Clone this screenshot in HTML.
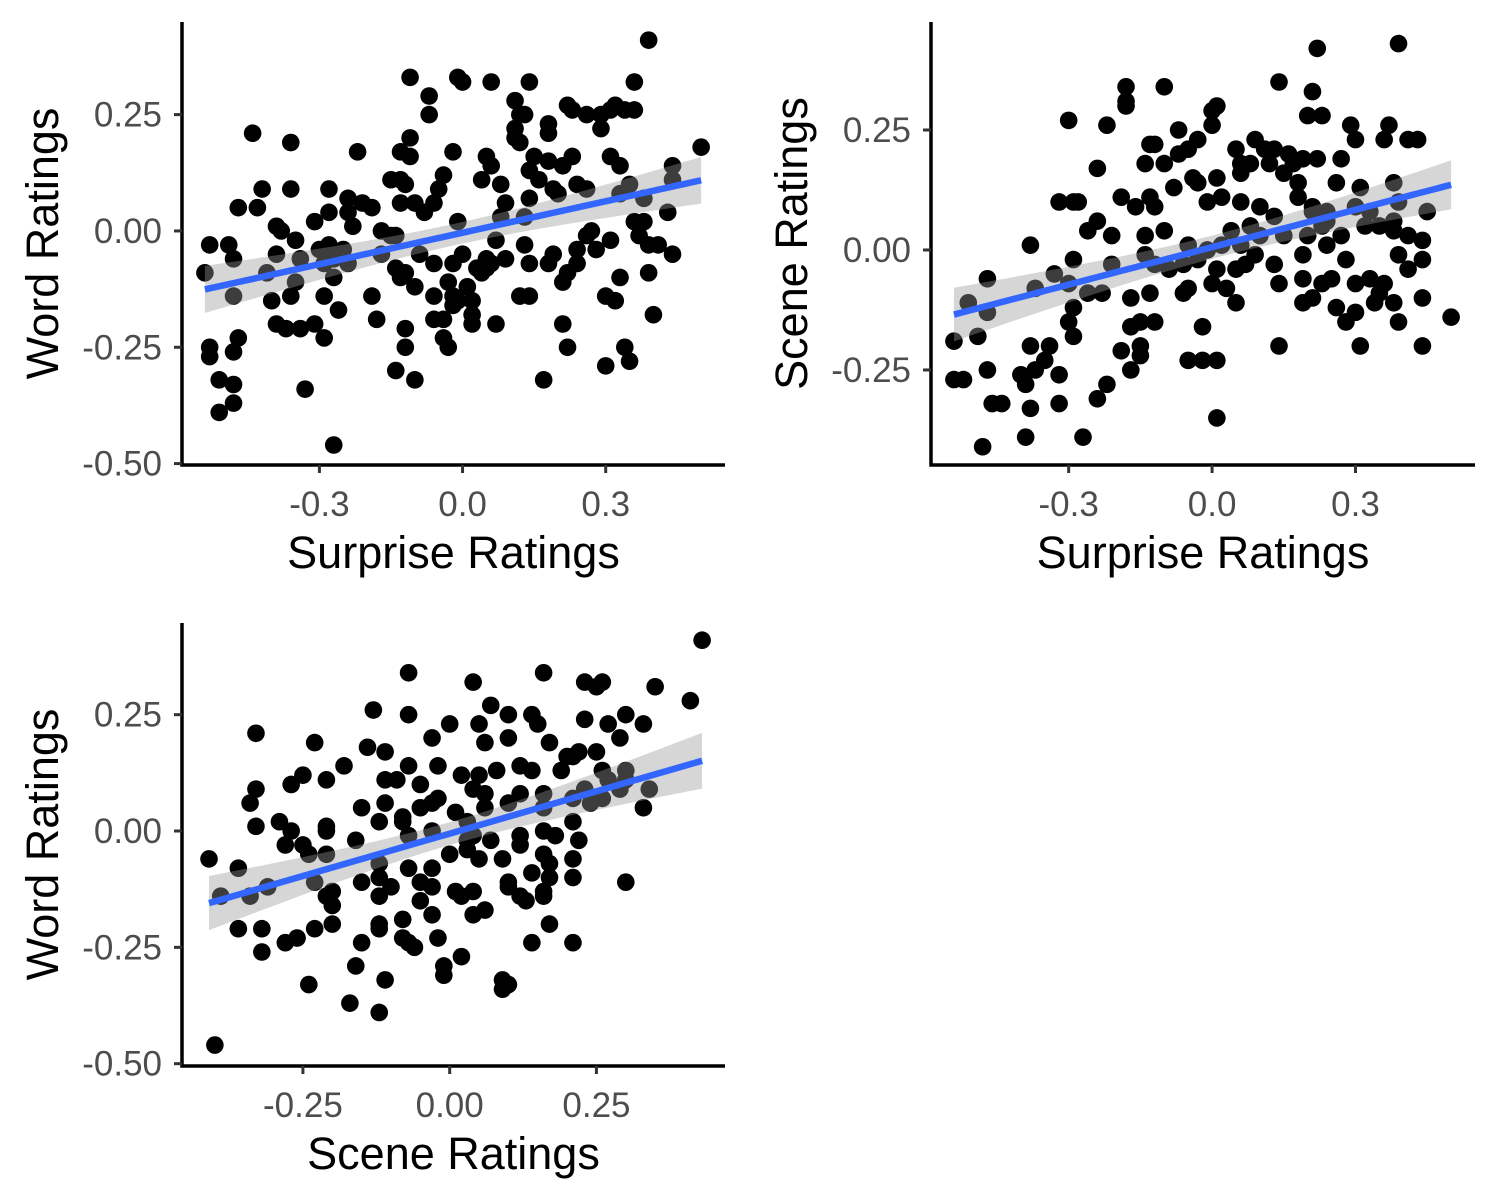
<!DOCTYPE html>
<html><head><meta charset="utf-8">
<style>
html,body{margin:0;padding:0;background:#fff;}
svg{display:block;}
text{font-family:"Liberation Sans",Arial,sans-serif;}
</style></head>
<body>
<svg id="chart" width="1500" height="1200" viewBox="0 0 1500 1200" xmlns="http://www.w3.org/2000/svg"></svg>
<script>
// ---- Panel 1: Surprise vs Word ----
const p1x=[0.39,-0.11,-0.01,0.06,0.14,0.36,0.00,-0.07,-0.07,0.11,0.22,0.32,0.23,0.12,0.13,0.29,0.26,0.18,-0.44,-0.36,-0.11,0.18,0.29,0.31,0.34,0.11,0.11,0.12,0.36,-0.11,-0.22,-0.13,-0.02,0.05,0.15,0.23,0.31,0.33,0.44,0.50,0.06,0.18,0.21,0.14,-0.42,-0.36,-0.28,-0.04,-0.13,-0.15,-0.12,0.04,0.08,0.16,0.19,0.24,0.26,0.35,0.44,-0.05,-0.06,-0.08,-0.24,-0.21,-0.19,-0.13,-0.10,0.09,0.14,0.20,0.33,0.38,0.43,-0.47,-0.43,-0.39,-0.38,-0.31,-0.28,-0.24,-0.23,-0.17,-0.15,-0.14,-0.01,0.08,0.13,0.27,0.36,0.38,0.26,0.31,0.37,0.39,0.41,-0.53,-0.49,-0.48,-0.39,-0.35,-0.34,-0.30,-0.28,-0.25,-0.24,-0.17,-0.09,-0.02,0.05,0.07,0.00,0.05,0.13,0.19,0.24,0.28,0.44,-0.54,-0.48,-0.41,-0.29,-0.27,-0.14,-0.12,-0.06,-0.03,-0.02,0.01,0.04,0.06,0.09,0.14,0.14,0.18,0.22,0.24,0.33,0.39,-0.40,-0.36,-0.35,-0.29,-0.27,-0.19,-0.13,-0.10,-0.06,-0.01,0.02,0.03,0.12,0.21,0.30,0.32,-0.39,-0.31,-0.26,-0.18,-0.06,-0.04,-0.02,0.02,0.07,0.21,0.40,-0.47,-0.48,-0.53,-0.37,-0.34,-0.29,-0.12,-0.12,-0.04,-0.03,0.02,0.22,0.34,0.35,-0.53,-0.51,-0.48,-0.51,-0.48,-0.33,-0.27,-0.14,-0.10,0.17,0.30];
const p1y=[0.41,0.33,0.33,0.32,0.32,0.32,0.32,0.29,0.25,0.28,0.27,0.27,0.26,0.25,0.25,0.25,0.25,0.23,0.21,0.19,0.20,0.21,0.22,0.26,0.26,0.22,0.20,0.19,0.26,0.16,0.17,0.17,0.17,0.16,0.16,0.16,0.16,0.14,0.14,0.18,0.14,0.15,0.14,0.13,0.09,0.09,0.09,0.12,0.11,0.11,0.10,0.11,0.10,0.11,0.09,0.10,0.09,0.10,0.11,0.09,0.06,0.04,0.07,0.06,0.05,0.06,0.06,0.06,0.07,0.08,0.08,0.07,0.04,0.05,0.05,0.01,0.00,0.02,0.04,0.04,0.01,0.00,-0.01,-0.01,0.02,0.03,0.03,0.00,0.02,0.02,-0.01,-0.02,-0.01,-0.03,-0.03,-0.03,-0.03,-0.06,-0.05,-0.02,-0.06,-0.04,-0.03,-0.04,-0.07,-0.05,-0.05,-0.07,-0.06,-0.02,-0.05,-0.08,-0.03,-0.05,-0.04,-0.04,-0.05,-0.09,-0.14,-0.09,-0.07,-0.06,-0.08,-0.09,-0.07,-0.11,-0.14,-0.12,-0.09,-0.07,-0.06,-0.07,-0.14,-0.07,-0.09,-0.07,-0.10,-0.09,-0.15,-0.14,-0.11,-0.14,-0.10,-0.14,-0.10,-0.12,-0.14,-0.15,-0.15,-0.08,-0.14,-0.11,-0.14,-0.15,-0.20,-0.20,-0.17,-0.19,-0.19,-0.19,-0.16,-0.18,-0.20,-0.20,-0.18,-0.23,-0.26,-0.25,-0.21,-0.21,-0.23,-0.21,-0.25,-0.23,-0.25,-0.20,-0.25,-0.25,-0.28,-0.27,-0.32,-0.33,-0.39,-0.37,-0.34,-0.46,-0.30,-0.32,-0.32,-0.29];
const p1xTicks=[-0.3,0.0,0.3];
const p1xLabels=["-0.3","0.0","0.3"];
const p1yTicks=[0.25,0.00,-0.25,-0.50];
const p1yLabels=["0.25","0.00","-0.25","-0.50"];

// ---- Panel 2: Surprise vs Scene ----
const p2x=[0.39,0.22,-0.10,-0.18,0.01,0.21,0.14,-0.18,-0.18,-0.30,-0.22,0.23,0.20,0.00,-0.07,-0.03,0.00,0.05,0.29,0.37,0.30,0.41,0.36,0.43,-0.13,-0.12,-0.07,-0.05,0.09,0.11,0.13,0.16,0.17,0.19,0.22,0.27,-0.24,-0.14,-0.10,-0.04,0.06,0.08,0.12,0.15,0.18,0.26,0.31,0.38,0.06,0.01,-0.03,-0.08,-0.13,-0.19,-0.32,-0.29,-0.28,-0.16,-0.12,-0.01,0.02,0.06,0.10,0.13,0.18,0.21,0.24,0.30,0.33,0.38,0.39,0.45,0.35,0.23,0.21,0.08,0.04,-0.24,-0.26,-0.21,-0.14,-0.10,-0.05,-0.01,0.02,0.06,0.10,0.15,0.20,0.24,0.27,0.32,0.38,0.39,0.41,0.44,-0.38,-0.29,-0.21,-0.14,-0.12,-0.09,-0.06,-0.03,0.01,0.05,0.07,0.09,0.13,0.19,0.24,0.28,0.44,0.33,0.41,0.25,0.19,0.23,0.19,0.30,0.36,0.35,0.38,0.44,-0.47,-0.37,-0.33,-0.30,-0.26,-0.23,-0.17,-0.13,-0.05,0.00,0.03,0.05,0.14,0.21,0.26,0.28,0.30,0.34,0.39,0.50,0.44,0.31,0.14,-0.02,-0.06,-0.29,-0.30,-0.15,-0.17,-0.12,-0.05,0.01,-0.02,-0.15,-0.19,-0.51,-0.47,-0.54,-0.49,-0.54,-0.52,-0.46,-0.47,-0.37,-0.32,-0.40,-0.39,-0.35,-0.34,-0.38,-0.38,-0.44,-0.32,-0.29,-0.24,-0.17,-0.15,-0.27,-0.39,-0.48,0.01,-0.22];
const p2y=[0.43,0.42,0.34,0.34,0.30,0.33,0.35,0.31,0.30,0.27,0.26,0.28,0.28,0.29,0.25,0.23,0.26,0.21,0.26,0.26,0.23,0.23,0.23,0.23,0.22,0.22,0.20,0.21,0.23,0.21,0.21,0.20,0.18,0.19,0.19,0.19,0.17,0.18,0.18,0.15,0.18,0.18,0.18,0.16,0.14,0.14,0.13,0.14,0.16,0.15,0.14,0.13,0.11,0.11,0.10,0.10,0.10,0.09,0.09,0.10,0.11,0.10,0.09,0.07,0.11,0.09,0.08,0.09,0.08,0.06,0.10,0.08,0.05,0.05,0.08,0.05,0.04,0.06,0.04,0.03,0.03,0.04,0.01,0.00,0.01,0.01,0.03,0.03,0.03,0.06,0.03,0.05,0.04,-0.01,0.03,0.02,0.01,-0.02,-0.03,-0.01,-0.03,-0.04,-0.03,-0.02,-0.04,-0.04,-0.03,-0.01,-0.03,-0.01,0.01,-0.02,-0.02,-0.06,-0.04,-0.06,-0.06,-0.07,-0.11,-0.07,-0.07,-0.09,-0.11,-0.10,-0.06,-0.08,-0.05,-0.07,-0.09,-0.09,-0.10,-0.09,-0.08,-0.07,-0.08,-0.11,-0.07,-0.10,-0.12,-0.15,-0.13,-0.11,-0.15,-0.14,-0.20,-0.20,-0.20,-0.16,-0.09,-0.12,-0.15,-0.15,-0.16,-0.15,-0.23,-0.23,-0.23,-0.20,-0.21,-0.11,-0.13,-0.19,-0.18,-0.27,-0.27,-0.32,-0.25,-0.25,-0.26,-0.26,-0.28,-0.23,-0.20,-0.20,-0.33,-0.32,-0.32,-0.18,-0.31,-0.25,-0.22,-0.39,-0.39,-0.41,-0.35,-0.28];
const p2xTicks=[-0.3,0.0,0.3];
const p2xLabels=["-0.3","0.0","0.3"];
const p2yTicks=[0.25,0.00,-0.25];
const p2yLabels=["0.25","0.00","-0.25"];

// ---- Panel 3: Scene vs Word ----
const p3x=[0.43,0.41,0.35,0.26,0.23,0.25,0.16,0.07,0.04,0.23,0.30,0.33,0.27,0.14,0.15,0.10,-0.07,-0.13,-0.07,0.00,0.05,0.10,0.06,-0.33,-0.23,-0.14,-0.03,0.17,0.22,0.25,0.20,0.21,0.29,0.26,0.30,0.30,0.27,0.23,0.19,0.14,0.12,0.08,0.05,0.02,-0.02,-0.07,-0.11,-0.18,-0.21,-0.25,-0.33,-0.27,-0.11,-0.09,-0.05,-0.02,0.04,0.06,0.12,0.16,0.21,0.24,0.26,0.29,0.34,0.33,-0.34,-0.33,-0.29,-0.27,-0.21,-0.15,-0.11,-0.08,-0.05,-0.03,0.01,0.03,0.06,0.10,0.16,0.18,0.21,0.22,0.16,0.12,0.07,0.04,0.03,-0.03,-0.07,-0.08,-0.12,-0.16,-0.21,-0.25,-0.28,-0.41,-0.36,-0.24,-0.21,-0.12,-0.07,-0.03,0.00,0.05,0.03,0.09,0.12,0.16,0.17,0.21,0.30,-0.39,-0.34,-0.31,-0.23,-0.20,-0.15,-0.12,-0.10,-0.05,-0.03,0.01,0.04,0.10,0.14,0.17,0.21,-0.21,-0.20,-0.12,-0.05,0.02,0.10,0.13,0.16,0.16,0.12,-0.36,-0.32,-0.32,-0.28,-0.26,-0.23,-0.20,-0.12,-0.08,-0.08,-0.03,0.04,0.06,0.17,0.21,0.14,-0.15,-0.16,-0.12,-0.06,-0.07,-0.01,-0.11,-0.17,-0.12,-0.01,0.09,0.10,0.09,-0.24,-0.40,-0.02,0.02];
const p3y=[0.41,0.28,0.31,0.32,0.32,0.31,0.34,0.27,0.32,0.24,0.25,0.23,0.23,0.25,0.23,0.25,0.34,0.26,0.25,0.23,0.23,0.20,0.19,0.21,0.19,0.18,0.20,0.19,0.17,0.17,0.16,0.16,0.20,0.13,0.13,0.11,0.11,0.09,0.13,0.13,0.14,0.13,0.12,0.12,0.14,0.14,0.17,0.14,0.11,0.12,0.09,0.10,0.11,0.11,0.10,0.07,0.09,0.08,0.08,0.08,0.07,0.06,0.07,0.09,0.09,0.05,0.06,0.01,0.02,0.00,0.01,0.05,0.06,0.03,0.05,0.06,0.04,0.02,0.05,0.06,0.00,-0.01,0.02,-0.02,0.05,-0.01,-0.02,-0.01,-0.02,0.00,-0.01,0.02,0.02,-0.02,0.00,-0.03,-0.03,-0.06,-0.08,-0.05,-0.05,-0.07,-0.08,-0.08,-0.05,-0.06,-0.04,-0.06,-0.03,-0.05,-0.07,-0.06,-0.11,-0.14,-0.14,-0.12,-0.11,-0.13,-0.11,-0.10,-0.12,-0.11,-0.12,-0.13,-0.13,-0.11,-0.09,-0.10,-0.10,-0.14,-0.16,-0.14,-0.15,-0.14,-0.12,-0.15,-0.13,-0.14,-0.14,-0.21,-0.21,-0.26,-0.24,-0.23,-0.21,-0.20,-0.20,-0.19,-0.23,-0.18,-0.18,-0.17,-0.20,-0.24,-0.24,-0.24,-0.29,-0.21,-0.25,-0.24,-0.29,-0.32,-0.37,-0.39,-0.31,-0.32,-0.33,-0.34,-0.33,-0.46,-0.23,-0.27];
const p3xTicks=[-0.25,0.00,0.25];
const p3xLabels=["-0.25","0.00","0.25"];
const p3yTicks=[0.25,0.00,-0.25,-0.50];
const p3yLabels=["0.25","0.00","-0.25","-0.50"];

const NS="http://www.w3.org/2000/svg";
const svg=document.getElementById('chart');
function mk(tag,attrs,parent){const e=document.createElementNS(NS,tag);for(const k in attrs)e.setAttribute(k,attrs[k]);(parent||svg).appendChild(e);return e;}

function panel(id,xs,ys,xT,xL,yT,yL,box,xdom,ydom,xTitle,yTitle){
  const g=mk('g',{});
  
  
  const sx=v=>box.l+(v-xdom[0])/(xdom[1]-xdom[0])*(box.r-box.l);
  const sy=v=>box.b-(v-ydom[0])/(ydom[1]-ydom[0])*(box.b-box.t);
  const pts=mk('g',{},g);
  
  
  for(let i=0;i<xs.length;i++){
    const c=mk('circle',{cx:sx(xs[i]),cy:sy(ys[i]),r:8.8,fill:'#000'},pts);
    
    
  }
  const n=xs.length;let mx=0,my=0;for(let i=0;i<n;i++){mx+=xs[i];my+=ys[i];}mx/=n;my/=n;
  let sxx=0,sxy=0;for(let i=0;i<n;i++){sxx+=(xs[i]-mx)**2;sxy+=(xs[i]-mx)*(ys[i]-my);}
  const b=sxy/sxx,a=my-b*mx;let sse=0;for(let i=0;i<n;i++)sse+=(ys[i]-a-b*xs[i])**2;
  const s=Math.sqrt(sse/(n-2)),t=1.97;
  const x0=Math.min(...xs),x1=Math.max(...xs);const N=60;let up=[],lo=[],ln=[];
  for(let k=0;k<=N;k++){const x=x0+(x1-x0)*k/N;const f=a+b*x;const se=t*s*Math.sqrt(1/n+(x-mx)**2/sxx);
    up.push(sx(x)+','+sy(f+se));lo.unshift(sx(x)+','+sy(f-se));ln.push(sx(x)+','+sy(f));}
  const band=mk('polygon',{points:up.concat(lo).join(' '),fill:'#999999','fill-opacity':0.4},g);
  
  
  const line=mk('polyline',{points:ln.join(' '),fill:'none',stroke:'#3366FF','stroke-width':6.5},g);
  
  
  const ax=mk('path',{d:`M${box.l},${box.t} L${box.l},${box.b} L${box.r},${box.b}`,fill:'none',stroke:'#000','stroke-width':3.5},g);
  
  
  xT.forEach((v,i)=>{const x=sx(v);
    mk('line',{x1:x,x2:x,y1:box.b,y2:box.b+8,stroke:'#333','stroke-width':3},g);
    const tx=mk('text',{x:x,y:box.b+51,'text-anchor':'middle','font-size':35,fill:'#4d4d4d'},g);tx.textContent=xL[i];
    
    });
  yT.forEach((v,i)=>{const y=sy(v);
    mk('line',{x1:box.l-8,x2:box.l,y1:y,y2:y,stroke:'#333','stroke-width':3},g);
    const ty=mk('text',{x:box.l-20,y:y+12,'text-anchor':'end','font-size':35,fill:'#4d4d4d'},g);ty.textContent=yL[i];
    
    });
  const xt=mk('text',{x:(box.l+box.r)/2,y:box.b+103,'text-anchor':'middle','font-size':45,fill:'#000'},g);xt.textContent=xTitle;
  
  
  const yc=(box.t+box.b)/2, yx=box.l-124;
  const yt=mk('text',{x:yx,y:yc,'text-anchor':'middle','font-size':45,fill:'#000',transform:`rotate(-90 ${yx} ${yc})`},g);yt.textContent=yTitle;
  
  
}

panel('panel-surprise-word',p1x,p1y,p1xTicks,p1xLabels,p1yTicks,p1yLabels,{l:182,r:725,t:22,b:465},[-0.588,0.550],[-0.503,0.449],'Surprise Ratings','Word Ratings');
panel('panel-surprise-scene',p2x,p2y,p2xTicks,p2xLabels,p2yTicks,p2yLabels,{l:931,r:1475,t:22,b:465},[-0.588,0.550],[-0.448,0.475],'Surprise Ratings','Scene Ratings');
panel('panel-scene-word',p3x,p3y,p3xTicks,p3xLabels,p3yTicks,p3yLabels,{l:182,r:725,t:623,b:1066},[-0.456,0.469],[-0.505,0.447],'Scene Ratings','Word Ratings');
</script>
</body></html>
